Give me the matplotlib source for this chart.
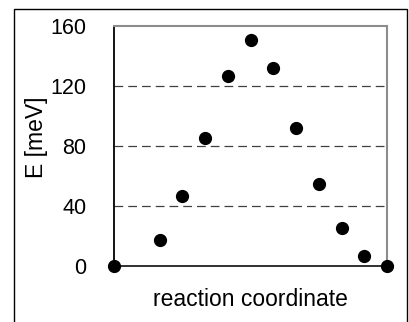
import matplotlib
matplotlib.use('Agg')
import matplotlib.pyplot as plt
from matplotlib.patches import Rectangle

# reaction coordinate positions and energies (meV)
coord = [0, 2, 3, 4, 5, 6, 7, 8, 9, 10, 11, 12]
energy = [0, 17.3, 46.7, 85.3, 126.7, 150.7, 132, 92, 54.7, 25.3, 6.7, 0]
yticks = [0, 40, 80, 120, 160]

plt.rcParams['font.family'] = ['Liberation Sans', 'DejaVu Sans']

fig = plt.figure(figsize=(4.09, 3.22), dpi=100)
ax = fig.add_axes([114 / 409, 56 / 322, 273 / 409, 240 / 322])

# outer frame of the picture (bottom edge runs off the image)
fig.patches.append(Rectangle((14 / 409, -0.1), 393 / 409, 1.1 - 9 / 322,
                             transform=fig.transFigure, fill=False,
                             edgecolor='black', linewidth=1.0))

for y in yticks[1:-1]:
    ax.axhline(y, color='#404040', linewidth=0.9, linestyle=(0, (7, 4)), zorder=1)

ax.plot(coord, energy, 'o', color='black', markersize=8.5, clip_on=False, zorder=3)

ax.set_xlim(0, 12)
ax.set_ylim(0, 160)
ax.set_xticks([])
ax.set_yticks(yticks)
ax.tick_params(axis='y', length=0, pad=20, labelsize=15.5)

ax.spines['left'].set_color('black')
ax.spines['bottom'].set_color('#202020')
ax.spines['left'].set_linewidth(1.3)
ax.spines['bottom'].set_linewidth(1.3)
for s in ['top', 'right']:
    ax.spines[s].set_color('#8c8c8c')
    ax.spines[s].set_linewidth(1.5)

fig.text(36 / 409, 1 - 137 / 322, 'E [meV]', rotation=90, ha='center', va='center', fontsize=16.5)
fig.text(250 / 409, 1 - 300 / 322, 'reaction coordinate', ha='center', va='center', fontsize=16.5)

fig.savefig('out.png', dpi=100)
